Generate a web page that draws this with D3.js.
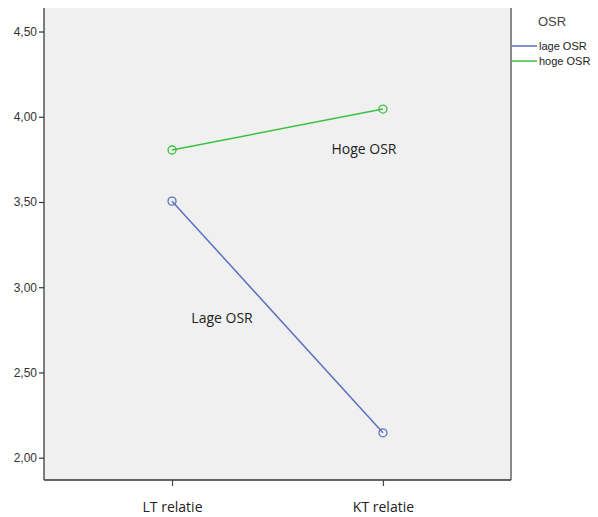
<!DOCTYPE html>
<html><head><meta charset="utf-8">
<script src="https://cdn.jsdelivr.net/npm/d3@7"></script>
<style>body{margin:0;background:#fff}svg{display:block}</style>
</head><body>
<script>
const categories = ["LT relatie", "KT relatie"];
const seriesNames = ["lage OSR", "hoge OSR"];
const lageValues = [3.505, 2.146];
const hogeValues = [3.805, 4.045];
const yTicks = [2.0, 2.5, 3.0, 3.5, 4.0, 4.5];
const colors = ["#5a6fc0", "#3cc043"];
const annotations = [
  {text: "Hoge OSR", cat: "KT relatie", value: 3.78, dx: -19},
  {text: "Lage OSR", cat: "LT relatie", value: 2.79, dx: 50}
];

const W = 598, H = 517;
const L = 44, R = 511, T = 8, B = 480;
const svg = d3.select("body").append("svg").attr("width", W).attr("height", H);

const x = d3.scalePoint().domain(categories).range([L, R]).padding(0.607);
const y = d3.scaleLinear().domain([1.869, 4.638]).range([B, T]);

svg.append("rect").attr("x", L).attr("y", T).attr("width", R - L).attr("height", B - T).attr("fill", "#f0f0f0");

// right border
svg.append("line").attr("x1", R).attr("x2", R).attr("y1", T).attr("y2", B)
  .attr("stroke", "#8a8a8a").attr("stroke-width", 2);

const labelFont = "'Open Sans', sans-serif";
const fmt = d => d.toFixed(2).replace(".", ",");
const yAxis = svg.append("g").attr("transform", `translate(${L},0)`)
  .call(d3.axisLeft(y).tickValues(yTicks).tickFormat(fmt).tickSize(5).tickPadding(2));
yAxis.select(".domain").attr("d", `M0,${T}V${B}`).attr("stroke", "#555").attr("stroke-width", 1.5);
yAxis.selectAll(".tick line").attr("stroke", "#333").attr("stroke-width", 1.2);
yAxis.selectAll(".tick text").attr("font-family", "Liberation Sans, Arial, sans-serif").attr("font-size", 12).attr("fill", "#333");

const xAxis = svg.append("g").attr("transform", `translate(0,${B})`)
  .call(d3.axisBottom(x).tickSize(6).tickPadding(16));
xAxis.select(".domain").attr("d", `M${L},0H${R}`).attr("stroke", "#333").attr("stroke-width", 1.5);
xAxis.selectAll(".tick line").attr("stroke", "#444").attr("stroke-width", 1.2);
xAxis.selectAll(".tick text").attr("font-family", labelFont).attr("font-size", 14).attr("fill", "#222");

const series = [lageValues, hogeValues];
const line = d3.line().x((d, i) => x(categories[i])).y(d => y(d));
series.forEach((vals, s) => {
  svg.append("path").datum(vals).attr("d", line).attr("fill", "none")
    .attr("stroke", colors[s]).attr("stroke-width", 1.5);
  svg.selectAll(null).data(vals).enter().append("circle")
    .attr("cx", (d, i) => x(categories[i])).attr("cy", d => y(d)).attr("r", 4)
    .attr("fill", "none").attr("stroke", colors[s]).attr("stroke-width", 1.3);
});

annotations.forEach(a => {
  svg.append("text").attr("x", x(a.cat) + a.dx).attr("y", y(a.value)).attr("text-anchor", "middle")
    .attr("font-family", labelFont).attr("font-size", 14).attr("fill", "#222")
    .text(a.text);
});

// legend
svg.append("text").attr("x", 538).attr("y", 26).attr("font-family", "Liberation Sans, Arial, sans-serif")
  .attr("font-size", 13).attr("fill", "#444").text("OSR");
seriesNames.forEach((n, i) => {
  const yy = 46 + i * 15;
  svg.append("line").attr("x1", 512).attr("x2", 537).attr("y1", yy).attr("y2", yy)
    .attr("stroke", colors[i]).attr("stroke-width", 1.5);
  svg.append("text").attr("x", 539).attr("y", yy + 4).attr("font-family", "Liberation Sans, Arial, sans-serif")
    .attr("font-size", 11).attr("fill", "#222").text(n);
});
</script>
</body></html>
